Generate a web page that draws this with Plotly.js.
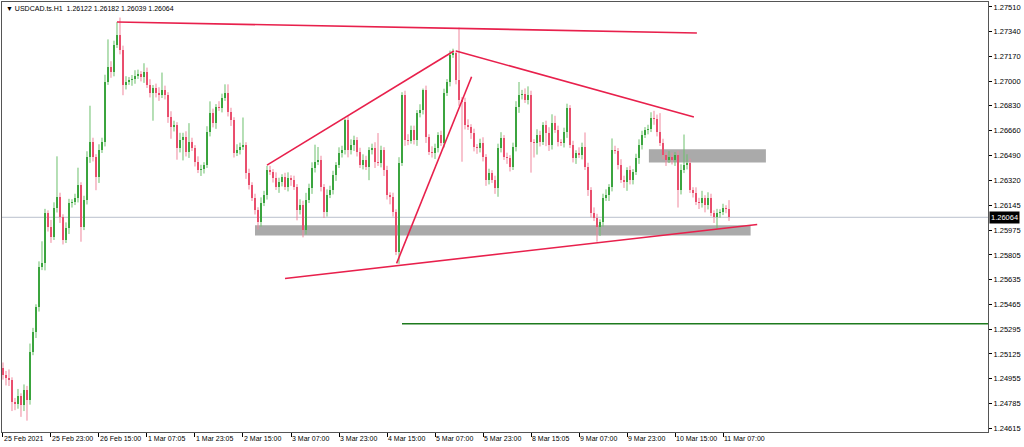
<!DOCTYPE html>
<html>
<head>
<meta charset="utf-8">
<script src="https://cdn.plot.ly/plotly-3.0.1.min.js"></script>
<style>html,body{margin:0;padding:0;background:#fff;}#chart{width:1024px;height:447px;}</style>
</head>
<body>
<div id="chart"></div>
<script>
// ---- data (USDCAD.ts H1, bar index 0 = 25 Feb 2021) ----
const symbol = "USDCAD.ts.H1";
const firstOpen = 1.25026;
const closes = [
 1.24978,1.24958,1.24944,1.24792,1.24778,1.24834,1.24772,1.24875,1.24806,1.25136,
 1.25274,1.25446,1.25721,1.25749,1.26092,1.25996,1.25928,1.26127,1.26203,1.26065,
 1.25907,1.25989,1.26161,1.26168,1.26196,1.26285,1.25996,1.26182,1.26478,1.26581,
 1.26478,1.26340,1.26526,1.26581,1.26994,1.27097,1.27063,1.27248,1.27317,1.27214,
 1.26973,1.26994,1.27008,1.27012,1.27035,1.27049,1.27028,1.27063,1.26973,1.26918,
 1.26953,1.26918,1.26904,1.26939,1.26904,1.26753,1.26684,1.26698,1.26540,1.26595,
 1.26615,1.26512,1.26581,1.26540,1.26443,1.26388,1.26395,1.26423,1.26650,1.26781,
 1.26712,1.26822,1.26815,1.26884,1.26918,1.26787,1.26732,1.26505,1.26526,1.26547,
 1.26560,1.26368,1.26285,1.26196,1.26113,1.26030,1.26161,1.26216,1.26388,1.26375,
 1.26333,1.26272,1.26306,1.26340,1.26272,1.26333,1.26320,1.26272,1.26113,1.26148,
 1.25976,1.26182,1.26265,1.26402,1.26443,1.26457,1.26272,1.26099,1.26216,1.26251,
 1.26354,1.26423,1.26505,1.26526,1.26732,1.26526,1.26560,1.26595,1.26512,1.26423,
 1.26457,1.26409,1.26526,1.26540,1.26443,1.26437,1.26526,1.26388,1.26216,1.26203,
 1.26099,1.25824,1.26437,1.26904,1.26595,1.26590,1.26664,1.26595,1.26781,1.26801,
 1.26939,1.26615,1.26512,1.26505,1.26540,1.26629,1.26574,1.26918,1.26994,1.27180,
 1.27193,1.27008,1.26870,1.26856,1.26698,1.26684,1.26643,1.26547,1.26540,1.26574,
 1.26478,1.26320,1.26368,1.26320,1.26265,1.26540,1.26609,1.26478,1.26471,1.26409,
 1.26547,1.26822,1.26904,1.26910,1.26870,1.26904,1.26581,1.26575,1.26629,1.26581,
 1.26698,1.26643,1.26560,1.26712,1.26664,1.26581,1.26574,1.26650,1.26815,1.26560,
 1.26471,1.26505,1.26492,1.26547,1.26409,1.26251,1.26092,1.26058,1.25996,1.26030,
 1.26196,1.26216,1.26272,1.26526,1.26520,1.26423,1.26320,1.26306,1.26388,1.26320,
 1.26375,1.26471,1.26560,1.26629,1.26664,1.26670,1.26746,1.26740,1.26650,1.26574,
 1.26492,1.26457,1.26478,1.26457,1.26492,1.26251,1.26388,1.26423,1.26437,1.26251,
 1.26230,1.26168,1.26161,1.26196,1.26148,1.26196,1.26092,1.26065,1.26092,1.26099,
 1.26127,1.26122,1.26064];
// upper / lower shadow lengths in pips (0.0001)
const wickUpPips = [
 4,3,6,2,3,5,2,4,3,6, 3,2,4,15,3,2,5,4,28,3, 2,4,3,2,3,12,2,3,4,25,
 3,2,4,3,5,19,4,3,9,12, 3,4,2,3,4,3,2,6,3,4, 2,3,4,12,3,2,4,3,2,5,
 3,4,13,3,2,4,3,2,4,8, 3,2,4,3,6,6,3,2,4,3, 19,2,3,2,3,2,4,3,3,3,
 2,4,3,2,3,4,2,3,2,4, 3,5,3,4,12,9,3,2,4,3, 3,2,4,3,1,3,4,3,2,3,
 4,3,2,3,4,20,3,2,3,2, 3,2,4,2,3,4,3,3,2,4, 1,3,2,4,3,2,3,3,2,3,
 3,2,36,2,3,4,2,3,2,3, 4,2,3,2,3,3,4,2,3,2, 3,4,9,3,4,6,3,2,4,3,
 2,3,4,6,5,3,2,3,3,2, 3,2,4,3,10,3,2,4,3,2, 3,4,2,8,3,2,4,3,2,3,
 2,3,4,3,2,3,4,5,3,13, 3,2,4,3,2,3,4,21,6,3, 2,4,3,5,2,4,3,2,3,2,
 3,2,6];
const wickDnPips = [
 3,5,4,6,4,3,8,4,14,3, 2,4,3,2,5,3,4,2,3,4, 3,2,4,3,2,3,10,2,3,4,
 3,9,4,2,3,2,4,3,2,3, 7,3,2,4,3,2,3,4,2,3, 19,3,4,2,3,4,8,3,8,3,
 14,3,4,2,3,2,4,3,2,3, 3,4,2,3,2,3,4,3,2,3, 2,4,3,2,3,5,3,2,3,2,
 3,2,4,3,2,3,4,2,7,3, 5,3,2,4,3,2,3,4,3,2, 3,4,2,3,3,5,3,4,3,2,
 3,2,9,3,4,2,3,4,3,5, 3,2,8,2,4,3,2,3,4,3, 3,4,2,3,4,3,2,3,2,3,
 2,3,4,41,3,2,4,3,4,3, 3,4,3,2,4,6,3,2,4,3, 2,3,4,3,2,3,21,10,8,3,
 2,9,4,3,2,3,2,3,4,2, 3,4,2,3,2,4,3,2,10,6, 3,2,4,3,2,3,2,4,6,3,
 3,2,4,3,2,3,2,4,3,2, 3,4,2,3,4,12,3,2,3,2, 3,2,4,3,5,3,2,4,8,3,
 2,3,2.5];
const xTickIdx = [0,16,32,48,64,80,96,112,128,144,160,176,192,208,224,240];
const xTickText = ["25 Feb 2021","25 Feb 23:00","26 Feb 15:00","1 Mar 07:05","1 Mar 23:05",
 "2 Mar 15:00","3 Mar 07:00","3 Mar 23:00","4 Mar 15:00","5 Mar 07:00","5 Mar 23:00",
 "8 Mar 15:05","9 Mar 07:00","9 Mar 23:00","10 Mar 15:00","11 Mar 07:00"];
const yTicks = [1.27510,1.27340,1.27170,1.27000,1.26830,1.26660,1.26490,1.26320,1.26145,
 1.25975,1.25805,1.25635,1.25465,1.25295,1.25125,1.24955,1.24785,1.24615];
// drawn objects: [barIndex, price]
const topLine = [[38,1.27407],[231.3,1.27331]];
const riseLine = [[88,1.26423],[150.3,1.27207]];
const fallLine = [[151,1.27207],[230.3,1.26753]];
const steepLine = [[131.2,1.25747],[156.2,1.27030]];
const supportLine = [[94,1.25643],[251.4,1.26015]];
const zoneLow = [[84,1.25938],[249.2,1.26010]];
const zoneHigh = [[215.3,1.26441],[254.3,1.26531]];
const targetLevel = [133,1.25332];

// ---- build ----
const n = closes.length;
const idx = closes.map((_, i) => i);
const opens = closes.map((c, i) => i === 0 ? firstOpen : closes[i - 1]);
const highs = closes.map((c, i) => Math.max(opens[i], c) + wickUpPips[i] * 0.0001);
const lows = closes.map((c, i) => Math.min(opens[i], c) - wickDnPips[i] * 0.0001);
const bull = closes.map((c, i) => c >= opens[i]);

const BULL = '#0b8a12', BEAR = '#e3173f';
const BULLW = '#6cbf6c', BEARW = '#f0879d';
const wick = (up) => {
  const x = [], y = [];
  idx.forEach(i => { if (bull[i] === up) { x.push(i, i, null); y.push(lows[i], highs[i], null); } });
  return {type:'scatter', mode:'lines', x, y, line:{color: up ? BULLW : BEARW, width:1},
    hoverinfo:'skip', showlegend:false};
};
const bodies = {
  type:'bar', x: idx,
  base: idx.map(i => Math.min(opens[i], closes[i])),
  y: idx.map(i => Math.max(Math.abs(closes[i] - opens[i]), 0.00003)),
  width: 0.67,
  marker:{color: idx.map(i => bull[i] ? BULL : BEAR), line:{width:0}},
  showlegend:false, hoverinfo:'skip'
};

const xMax = 328.33;
const RED = '#e8204c';
const seg = (p, color, w) => ({type:'line', xref:'x', yref:'y', x0:p[0][0], y0:p[0][1], x1:p[1][0], y1:p[1][1], line:{color, width:w}});
const rect = (p) => ({type:'rect', xref:'x', yref:'y', x0:p[0][0], y0:p[0][1], x1:p[1][0], y1:p[1][1], fillcolor:'#aaaaaa', line:{width:0}, layer:'below'});
const last = n - 1;
const shapes = [
  rect(zoneLow), rect(zoneHigh),
  {type:'line', xref:'paper', yref:'y', x0:0, x1:1, y0:closes[last], y1:closes[last], line:{color:'#b9c0cc', width:1}, layer:'below'},
  {type:'line', xref:'x', yref:'y', x0:targetLevel[0], x1:xMax, y0:targetLevel[1], y1:targetLevel[1], line:{color:'#1e7a1e', width:1.5}},
  seg(topLine, RED, 1.6), seg(riseLine, RED, 1.6), seg(fallLine, RED, 1.6),
  seg(steepLine, RED, 1.6), seg(supportLine, RED, 1.6)
];
const f5 = v => v.toFixed(5);
const FONT = 'Liberation Sans, Arial, sans-serif';
const annotations = [
  {xref:'paper', yref:'paper', x:0, y:1, xanchor:'left', yanchor:'top', xshift:2, yshift:-1, showarrow:false, align:'left',
   text: '▼ ' + symbol + '  ' + [opens[last], highs[last], lows[last], closes[last]].map(f5).join(' '),
   font:{family:FONT, size:7, color:'#000'}},
  {xref:'paper', yref:'y', x:1, y:closes[last], xanchor:'left', yanchor:'middle', xshift:1, showarrow:false,
   text: f5(closes[last]), bgcolor:'#000', borderpad:1, font:{family:FONT, size:7.5, color:'#fff'}}
];

const layout = {
  width:1024, height:447,
  margin:{l:2, r:36, t:2, b:15, pad:0},
  paper_bgcolor:'#fff', plot_bgcolor:'#fff',
  bargap:0, showlegend:false,
  xaxis:{range:[-0.33, xMax], showgrid:false, zeroline:false, tickmode:'array', tickvals:xTickIdx, ticktext:xTickText,
    ticks:'outside', ticklen:4, tickcolor:'#000', showline:true, linecolor:'#555', linewidth:1, mirror:true,
    tickangle:0, automargin:false,
    ticklabelposition:'outside right', tickfont:{family:FONT, size:7, color:'#000'}, fixedrange:true},
  yaxis:{range:[1.24588, 1.27544], side:'right', showgrid:false, zeroline:false, tickmode:'array', tickvals:yTicks,
    ticktext:yTicks.map(f5), ticks:'outside', ticklen:3, tickcolor:'#000', showline:true, linecolor:'#555', linewidth:1, mirror:true,
    automargin:false, tickfont:{family:FONT, size:7.5, color:'#000'}, fixedrange:true},
  shapes, annotations
};
Plotly.newPlot('chart', [wick(true), wick(false), bodies], layout, {displayModeBar:false, staticPlot:true});
</script>
</body>
</html>
